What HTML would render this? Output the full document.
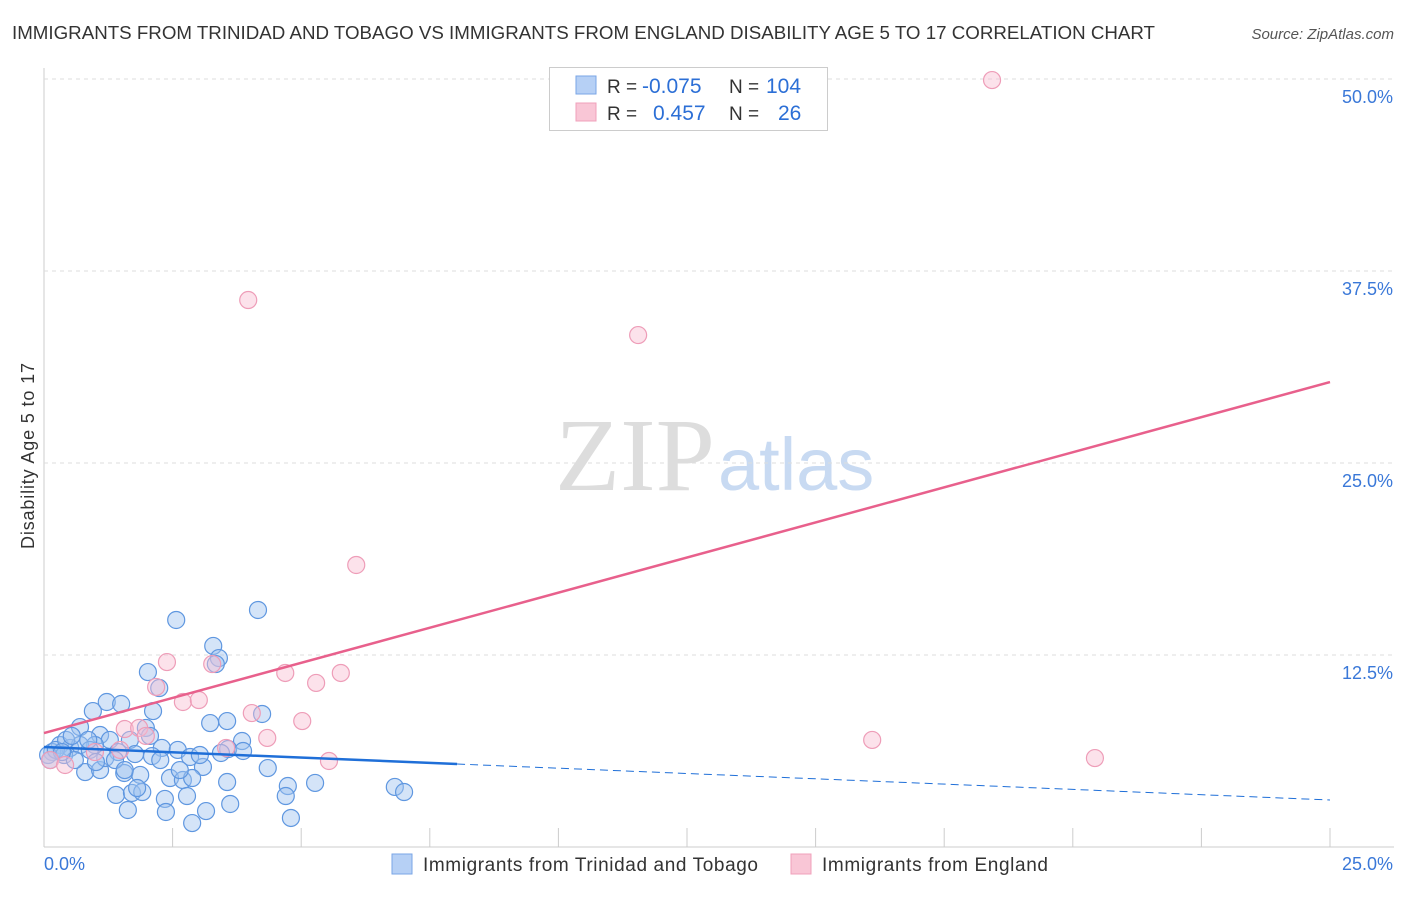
<!DOCTYPE html>
<html><head><meta charset="utf-8"><style>
body{margin:0;background:#fff;font-family:"Liberation Sans",sans-serif;}
</style></head><body>
<svg width="1406" height="892" xmlns="http://www.w3.org/2000/svg" id="svg" style="font-family:'Liberation Sans',sans-serif">
<text x="12" y="39" font-size="18" fill="#333" textLength="1143" lengthAdjust="spacingAndGlyphs">IMMIGRANTS FROM TRINIDAD AND TOBAGO VS IMMIGRANTS FROM ENGLAND DISABILITY AGE 5 TO 17 CORRELATION CHART</text>
<text x="1394" y="39" font-size="15" fill="#555" text-anchor="end" font-style="italic">Source: ZipAtlas.com</text>
<text x="34" y="456" font-size="18" fill="#333" text-anchor="middle" textLength="186" transform="rotate(-90 34 456)">Disability Age 5 to 17</text>
<text x="555" y="490" font-size="104" fill="#ddd" textLength="160" lengthAdjust="spacingAndGlyphs" font-family="Liberation Serif">ZIP</text>
<text x="718" y="490" font-size="74" fill="#c8daf2">atlas</text>
<g id="grid"></g><g id="marks"></g>
<rect x="549.5" y="67.5" width="278" height="63" fill="#fff" stroke="#ccc"/>
<rect x="576" y="76" width="20" height="18" fill="#b6d0f5" stroke="#7aa6e6"/>
<rect x="576" y="103" width="20" height="18" fill="#f9c6d6" stroke="#f0a0bb"/>
<text x="607" y="93" font-size="19" fill="#333">R =</text>
<text x="642" y="93" font-size="21" fill="#2c6fd6">-0.075</text>
<text x="729" y="93" font-size="19" fill="#333">N =</text>
<text x="766" y="93" font-size="21" fill="#2c6fd6">104</text>
<text x="607" y="120" font-size="19" fill="#333">R =</text>
<text x="653" y="120" font-size="21" fill="#2c6fd6">0.457</text>
<text x="729" y="120" font-size="19" fill="#333">N =</text>
<text x="778" y="120" font-size="21" fill="#2c6fd6">26</text>
<rect x="392" y="854" width="20" height="20" fill="#b6d0f5" stroke="#7aa6e6"/>
<text x="423" y="871" font-size="19" fill="#333" textLength="335">Immigrants from Trinidad and Tobago</text>
<rect x="791" y="854" width="20" height="20" fill="#f9c6d6" stroke="#f0a0bb"/>
<text x="822" y="871" font-size="19" fill="#333" textLength="226">Immigrants from England</text>
</svg>
<script>
const xTicks=[0,25];
const yTicks=[12.5,25,37.5,50];
const blueX=[2.57,4.16,3.29,3.40,3.34,2.02,2.24,1.22,1.50,0.95,2.12,4.24,3.23,3.56,0.70,1.98,2.06,1.09,3.85,2.29,2.60,3.58,3.44,3.87,1.28,1.67,0.99,1.44,1.77,2.10,2.84,3.09,4.35,2.45,2.70,2.88,3.56,4.74,5.27,6.82,7.00,1.56,1.87,1.40,1.71,1.91,2.35,2.78,3.62,4.70,1.63,2.37,3.15,2.88,4.80,0.80,1.09,0.31,0.51,0.70,0.16,0.08,0.23,0.39,0.60,0.89,1.19,1.38,0.43,0.54,0.86,0.35,0.12,1.01,1.57,1.81,2.26,2.64,3.03];
const blueY=[14.78,15.43,13.09,12.30,11.91,11.39,10.35,9.44,9.31,8.85,8.85,8.66,8.07,8.20,7.81,7.75,7.23,7.29,6.90,6.45,6.32,6.38,6.12,6.25,6.97,6.97,6.64,6.18,6.05,5.92,5.86,5.21,5.14,4.49,4.36,4.49,4.23,3.97,4.17,3.91,3.58,4.82,4.69,3.39,3.52,3.58,3.13,3.32,2.80,3.32,2.41,2.28,2.34,1.56,1.89,4.88,5.01,6.64,6.45,6.64,6.18,5.99,6.32,5.99,5.66,6.32,5.79,5.66,6.97,7.23,6.97,6.18,5.66,5.53,5.01,3.84,5.66,5.01,5.99];
const pinkX=[18.43,3.97,11.55,6.07,2.39,3.27,4.69,5.77,5.29,2.18,2.70,3.01,4.04,5.02,1.57,1.85,1.98,4.34,3.54,16.10,20.43,5.54,0.12,0.41,0.99,1.48];
const pinkY=[49.93,35.61,33.33,18.36,12.04,11.91,11.33,11.33,10.68,10.42,9.44,9.57,8.72,8.20,7.68,7.75,7.23,7.10,6.45,6.97,5.79,5.60,5.66,5.34,6.18,6.32];
const blueTrend=[6.51,3.06];
const pinkTrend=[7.42,30.27];
const blueSolidEnd=8.03;
const NS='http://www.w3.org/2000/svg';
const X=v=>44+v*1286/25, Y=v=>847-v*15.36;
function mk(p,t,a){const e=document.createElementNS(NS,t);for(const k in a)e.setAttribute(k,a[k]);p.appendChild(e);return e;}
const grid=document.getElementById('grid'),marks=document.getElementById('marks');
let ax=mk(grid,'line',{x1:44,x2:44,y1:68,y2:847,stroke:'#ccc'});


let bx=mk(grid,'line',{x1:44,x2:1394,y1:847,y2:847,stroke:'#ccc'});


for(let i=0;i<=10;i++){const t=mk(grid,'line',{x1:X(i*2.5),x2:X(i*2.5),y1:828,y2:847,stroke:'#ccc'});

}
yTicks.forEach(v=>{const g=mk(grid,'line',{x1:44,x2:1394,y1:Y(v),y2:Y(v),stroke:'#ddd','stroke-dasharray':'4 4'});


const t=mk(grid,'text',{x:1393,y:Y(v)+24,'font-size':18,fill:'#3a78d8','text-anchor':'end'});t.textContent=v.toFixed(1)+'%';

});
xTicks.forEach((v,i)=>{const t=mk(grid,'text',{x:i?1393:44,y:870,'font-size':18,fill:'#3a78d8','text-anchor':i?'end':'start'});t.textContent=v.toFixed(1)+'%';

});
blueX.forEach((x,i)=>{const c=mk(marks,'circle',{cx:X(x),cy:Y(blueY[i]),r:8.5,fill:'rgba(160,195,240,0.45)',stroke:'#5f97e0','stroke-width':1.2});

});
pinkX.forEach((x,i)=>{const c=mk(marks,'circle',{cx:X(x),cy:Y(pinkY[i]),r:8.5,fill:'rgba(248,190,210,0.45)',stroke:'#ee9db8','stroke-width':1.2});

});
const by=x=>blueTrend[0]+(blueTrend[1]-blueTrend[0])*x/25;
let l1=mk(marks,'line',{x1:X(0),y1:Y(by(0)),x2:X(blueSolidEnd),y2:Y(by(blueSolidEnd)),stroke:'#1f6fd8','stroke-width':2.5});


let l2=mk(marks,'line',{x1:X(blueSolidEnd),y1:Y(by(blueSolidEnd)),x2:X(25),y2:Y(by(25)),stroke:'#1f6fd8','stroke-width':1,'stroke-dasharray':'8 5'});


let l3=mk(marks,'line',{x1:X(0),y1:Y(pinkTrend[0]),x2:X(25),y2:Y(pinkTrend[1]),stroke:'#e8608c','stroke-width':2.5});


</script>
</body></html>
